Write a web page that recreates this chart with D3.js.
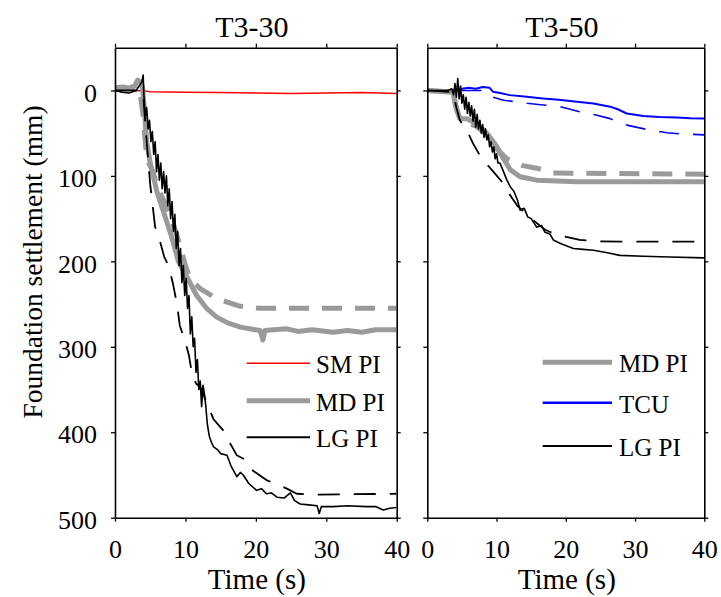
<!DOCTYPE html>
<html><head><meta charset="utf-8">
<script src="https://cdn.jsdelivr.net/npm/d3@7"></script>
<style>body{margin:0;background:#fff}svg{display:block}svg text{font-family:"Liberation Serif","Tinos","Times New Roman","Times","DejaVu Serif","Noto Serif",serif !important;fill:#000}</style>
</head><body>
<script>
// ---- data ----
const panelTitles = ["T3-30", "T3-50"];
const xTicks = [0, 10, 20, 30, 40];
const yTicks = [0, 100, 200, 300, 400, 500];
const xDomain = [0, 40];
const yDomain = [-50, 500];

// Left panel (T3-30)
const smPI_30 = [[0,0],[2,0],[4,0.5],[5,1.5],[10,2],[15,2.5],[20,3],[25,3.5],[30,3],[35,2.5],[40,3.5]];
const mdPI_30 = [[0,-3],[1,-4],[2,-3],[2.8,-5],[3.2,-12],[3.6,-10],[3.9,-4],[4.1,15],[4.5,60],[5,85],[6,120],[7,145],[8,170],[9,200],[10.2,218],[11.6,240],[13,255],[14.4,265],[16,272],[17.8,277],[20.6,281],[21,292],[21.3,281],[22.5,280],[24.4,279],[26,282],[28,280],[31,283],[33,281],[35,283],[37,280],[40,280]];
const mdPI_30_dash = [[0,-2],[3.5,-2],[4,30],[4.5,80],[5.4,95],[6,113],[7,130],[8,150],[9,175],[10,205],[10.65,220],[12.1,232],[14.4,243.6],[17.8,252.6],[20.6,255],[40,255]];
const lgPI_30 = [[0,0],[1,2],[2,3],[3,0],[3.5,-6],[3.8,-10],[4.0,-18],[4.1,5],[4.3,30],[4.5,20],[4.7,45],[4.9,35],[5.1,60],[5.3,48],[5.5,75],[5.7,60],[5.9,95],[6.1,75],[6.3,105],[6.5,85],[6.7,115],[6.9,95],[7.1,120],[7.3,100],[7.5,135],[7.7,115],[7.9,150],[8.1,130],[8.3,165],[8.5,145],[8.7,185],[8.9,165],[9.1,205],[9.3,185],[9.5,225],[9.7,205],[9.9,240],[10.1,220],[10.3,255],[10.5,240],[10.7,285],[10.9,265],[11.1,300],[11.3,290],[11.5,330],[11.7,315],[11.9,350],[12.1,340],[12.3,370],[12.5,345],[12.7,355],[12.9,370],[13.1,390],[13.4,405],[13.7,412],[14.0,417],[14.5,420],[15,425],[15.9,427],[16.5,440],[17.3,452],[17.8,447],[18.2,450],[19,460],[20.1,468],[20.8,466],[21.5,472],[22.2,471],[23,476],[24,477],[24.9,471],[25.5,480],[26.3,484],[27.5,485],[28.7,486],[29,495],[29.3,487],[31,487],[33,486],[35.7,487],[37,487],[38.1,491],[39,489],[40,488]];
const lgPI_30_dash = [[0,0],[3.8,0],[4,5],[4.5,60],[5,110],[5.7,160],[6.4,177],[7,195],[7.6,205],[8.2,225],[8.8,250],[9.2,275],[10,295],[10.5,310],[10.9,330],[11.5,343],[12.1,347],[13,365],[14,385],[15.4,398],[16,408],[17.3,427],[18.7,433],[19.6,445],[21.5,456],[23,461],[24.4,466],[25.8,472],[28,473],[40,472]];

// Right panel (T3-50)
const tcu_50 = [[0,0],[3,0],[5,-2],[6,-3],[7,-2],[8,-4],[9,-3],[9.5,1.6],[10.5,3],[11.9,5.5],[14,7],[16.7,9.4],[19,11],[21.6,13.3],[24,15.2],[26.4,19],[27.5,22],[28.8,27],[31.2,30],[33.5,31],[36,31.6],[38,32.5],[40,32.8]];
const tcu_50_dash = [[0,0],[8,0],[9.3,7.5],[11,11.4],[14.4,15],[16.7,17],[19.2,19],[22,25],[24.5,29],[26.4,33],[28.8,40.6],[32.2,46.5],[34.6,49.6],[37,51],[40,52]];
const mdPI_50 = [[0,0],[3.7,2],[4.2,22],[4.7,33],[5.7,33],[7.1,39],[8.6,50],[10,65],[11,80],[12,93],[13.4,101],[15.8,105],[21.6,107],[30,107],[40,107]];
const mdPI_50_dash = [[0,0],[3.7,2],[4.2,20],[4.7,33],[5.7,38],[7.1,42],[8.6,52],[10,68],[11.5,80],[13.8,88],[15.8,91],[18.2,96.5],[22,97],[40,98]];
const lgPI_50 = [[0,0],[3,0],[3.5,-2],[3.8,5],[4.0,-8],[4.2,8],[4.4,-14],[4.6,10],[4.8,-5],[5.0,15],[5.2,5],[5.4,22],[5.6,8],[5.8,27],[6.0,14],[6.2,30],[6.4,18],[6.6,36],[6.8,22],[7.0,43],[7.2,28],[7.4,45],[7.6,35],[7.8,50],[8.0,40],[8.2,55],[8.4,45],[8.6,58],[8.8,52],[9.0,66],[9.2,60],[9.4,72],[9.6,66],[9.8,80],[10.0,74],[10.2,85],[10.5,85],[11,95],[11.5,105],[12,113],[12.5,118],[13,128],[13.4,140],[14,138],[14.5,148],[15,150],[15.8,160],[16.5,158],[17,166],[17.7,168],[18.2,175],[18.7,177],[19.5,180],[21.1,185],[22.5,186],[24,187],[26,190],[27.8,193],[31.2,194],[35,195],[40,196]];
const lgPI_50_dash = [[0,0],[3.7,2],[4.2,20],[4.7,35],[5.9,50],[6.6,62],[8,82],[9,90],[11,109],[11.5,117],[13,135],[15,150],[17,163],[19,170],[19.9,171],[22,175],[24.5,176.5],[28,177],[40,177]];

const legend30 = ["SM PI", "MD PI", "LG PI"];
const legend50 = ["MD PI", "TCU", "LG PI"];

// ---- styles ----
const RED = "#ff0000", BLUE = "#0000ff", GREY = "#9a9a9a", BLACK = "#000";
const FONT = '"Liberation Serif","Tinos","Times New Roman","DejaVu Serif",serif';
const sty = {
  red:   {c: RED, w: 1.5, d: null},
  grey:  {c: GREY, w: 5, d: null},
  greyD: {c: GREY, w: 5, d: "20,13"},
  black: {c: BLACK, w: 1.6, d: null},
  blackD:{c: BLACK, w: 1.8, d: "22,14"},
  blue:  {c: BLUE, w: 2, d: null},
  blueD: {c: BLUE, w: 1.6, d: "20,14"}
};

const W = 721, H = 597;
const svg = d3.select("body").append("svg").attr("width", W).attr("height", H)
  .attr("font-family", FONT);

const yTop = 47.7, yBot = 517.7;
const panels = [
  {x0: 115, x1: 396.7, title: panelTitles[0], yLabels: true,
   series: [[smPI_30,"red"],[mdPI_30_dash,"greyD"],[mdPI_30,"grey"],[lgPI_30_dash,"blackD"],[lgPI_30,"black"]],
   legend: {x0: 246.7, x1: 310, tx: 316, ys: [363.3, 400.7, 437.3], names: legend30, st: ["red","grey","black"]}},
  {x0: 427.3, x1: 704.3, title: panelTitles[1], yLabels: false,
   series: [[tcu_50_dash,"blueD"],[tcu_50,"blue"],[mdPI_50_dash,"greyD"],[mdPI_50,"grey"],[lgPI_50_dash,"blackD"],[lgPI_50,"black"]],
   legend: {x0: 542.7, x1: 612, tx: 619, ys: [362.3, 402.7, 446], names: legend50, st: ["grey","blue","black"]}}
];

// settlement increases downward
const y = d3.scaleLinear().domain(yDomain).range([yTop, yBot]);

panels.forEach((p, i) => {
  const x = d3.scaleLinear().domain(xDomain).range([p.x0, p.x1]);
  const g = svg.append("g");
  const cid = "clip" + i;
  svg.append("clipPath").attr("id", cid).append("rect")
    .attr("x", p.x0).attr("y", yTop).attr("width", p.x1 - p.x0).attr("height", yBot - yTop);

  const line = d3.line().x(d => x(d[0])).y(d => y(d[1]));
  const lg = g.append("g").attr("clip-path", `url(#${cid})`);
  p.series.forEach(([data, s]) => {
    const st = sty[s];
    lg.append("path").datum(data).attr("d", line)
      .attr("fill", "none").attr("stroke", st.c).attr("stroke-width", st.w)
      .attr("stroke-dasharray", st.d).attr("stroke-linejoin", "round");
  });

  const axB = d3.axisBottom(x).tickValues(xTicks).tickSizeInner(4).tickSizeOuter(0).tickPadding(10);
  const axT = d3.axisTop(x).tickValues(xTicks).tickSizeInner(4).tickSizeOuter(0).tickFormat("");
  const axL = d3.axisLeft(y).tickValues(yTicks).tickSizeInner(4).tickSizeOuter(0).tickPadding(14);
  const axR = d3.axisRight(y).tickValues(yTicks).tickSizeInner(4).tickSizeOuter(0).tickFormat("");
  if (!p.yLabels) axL.tickFormat("");

  const gb = g.append("g").attr("transform", `translate(0,${yBot})`).call(axB);
  const gt = g.append("g").attr("transform", `translate(0,${yTop})`).call(axT);
  const gl = g.append("g").attr("transform", `translate(${p.x0},0)`).call(axL);
  const gr = g.append("g").attr("transform", `translate(${p.x1},0)`).call(axR);
  [gb, gt, gl, gr].forEach(a => {
    a.attr("font-family", FONT).attr("font-size", 26);
    a.selectAll("path.domain").attr("stroke", "#000").attr("stroke-width", 1.6);
    a.selectAll(".tick line").attr("stroke", "#000").attr("stroke-width", 1.3);
    a.selectAll("text").attr("font-family", FONT).attr("font-size", 26).attr("fill", "#000");
  });
  gb.selectAll("text").attr("dy", null).attr("y", 40);
  gl.selectAll("text").attr("dy", "0.41em").attr("x", -18);

  g.append("text").attr("x", (p.x0 + p.x1) / 2 - 4).attr("y", 36.5)
    .attr("text-anchor", "middle").attr("font-size", 30).text(p.title);
  g.append("text").attr("x", (p.x0 + p.x1) / 2 + 1).attr("y", 589)
    .attr("text-anchor", "middle").attr("font-size", 29).text("Time (s)");

  p.legend.names.forEach((n, k) => {
    const key = p.legend.st[k];
    const st = sty[key];
    const yy = p.legend.ys[k];
    g.append("line").attr("x1", p.legend.x0).attr("x2", p.legend.x1).attr("y1", yy).attr("y2", yy)
      .attr("stroke", st.c).attr("stroke-width", key === "blue" ? 2.5 : (key === "black" ? 2 : st.w));
    g.append("text").attr("x", p.legend.tx).attr("y", yy + 10).attr("font-size", 25).text(n);
  });
});

svg.append("text").attr("transform", "translate(42,262) rotate(-90)")
  .attr("text-anchor", "middle").attr("font-size", 27.5).text("Foundation settlement (mm)");
</script>
</body></html>
